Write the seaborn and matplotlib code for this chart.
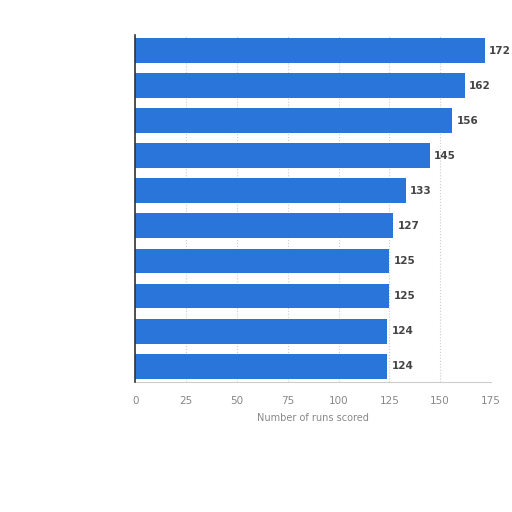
import numpy as np
import pandas as pd
import matplotlib
matplotlib.use('Agg')
import matplotlib.pyplot as plt
import seaborn as sns

# Category names are not legible in the reference, so the labels stay blank
ranks = ['1', '2', '3', '4', '5', '6', '7', '8', '9', '10']
runs = [172, 162, 156, 145, 133, 127, 125, 125, 124, 124]
x_ticks = [0, 25, 50, 75, 100, 125, 150, 175]

df = pd.DataFrame({'rank': ranks, 'runs': runs})

sns.set_style('white')
plt.rcParams['font.family'] = ['DejaVu Sans']

fig = plt.figure(figsize=(5.12, 5.12), dpi=100)
ax = fig.add_axes([0.264, 0.254, 0.695, 0.678])

sns.barplot(data=df, x='runs', y='rank', orient='h', color='#2a75d9',
            saturation=1, width=0.71, linewidth=0, ax=ax, zorder=3)

for i, v in enumerate(runs):
    ax.text(v + 2, i, str(v), va='center', ha='left', fontsize=7.5,
            fontweight='bold', color='#444444', zorder=4)

ax.set_xlim(0, 175)
ax.set_ylim(9.45, -0.45)
ax.set_xticks(x_ticks)
ax.set_xticklabels([str(t) for t in x_ticks], fontsize=7.5, color='#888888')
ax.set_yticks(range(len(ranks)))
ax.set_yticklabels([''] * len(ranks))
ax.tick_params(axis='both', length=0)
ax.tick_params(axis='x', pad=10)
ax.set_ylabel('')
ax.set_xlabel('Number of runs scored', fontsize=7, color='#888888', labelpad=5)

ax.grid(axis='x', linestyle=':', color='#cccccc', linewidth=0.8, zorder=0)
for s in ['top', 'right']:
    ax.spines[s].set_visible(False)
ax.spines['left'].set_color('#333333')
ax.spines['left'].set_linewidth(1.2)
ax.spines['left'].set_zorder(5)
ax.spines['bottom'].set_color('#cccccc')

fig.savefig('out.png', dpi=100)
